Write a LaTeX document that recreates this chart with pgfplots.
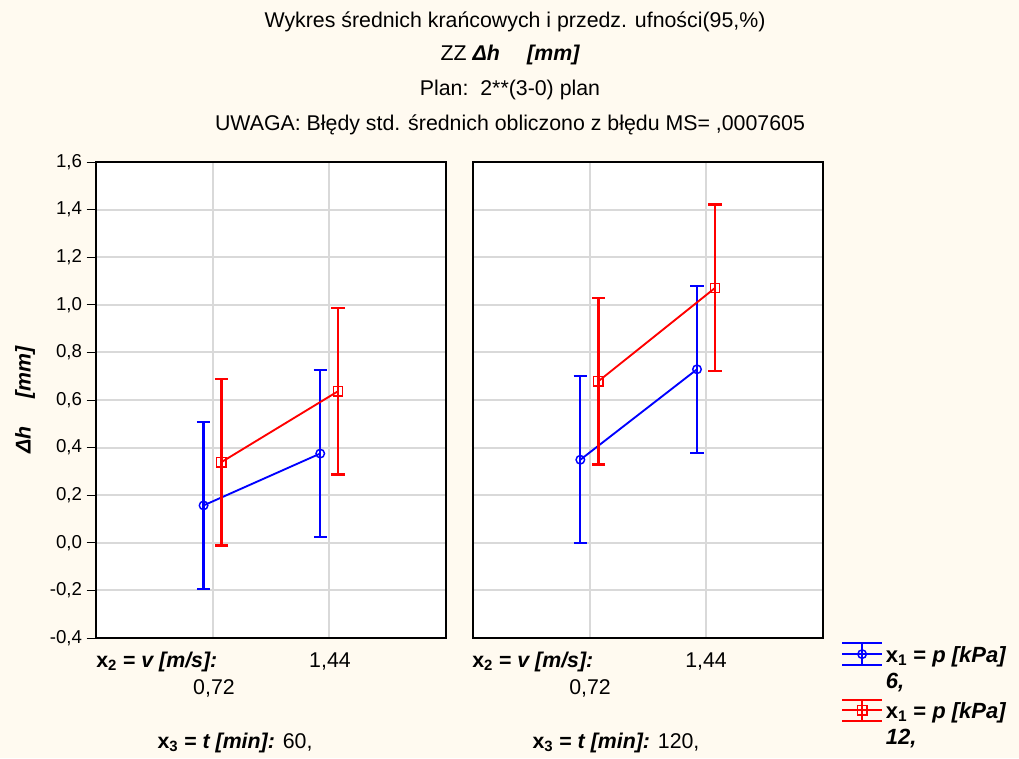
\documentclass[border=0pt]{standalone}
\usepackage{fontspec}
\setmainfont{Liberation Sans}
\usepackage{pgfplots}
\pgfplotsset{compat=1.18}
\definecolor{bg}{HTML}{FFFAF0}
\definecolor{gridc}{HTML}{D9D9D9}
\newcommand{\fs}{\fontsize{14}{19.5}\selectfont}
\newcommand{\fb}{\fontsize{16}{19.5}\selectfont}
\newcommand{\fl}{\fontsize{16.5}{19.5}\selectfont}
\newcommand{\bi}{\bfseries\itshape}
\begin{document}
\begin{tikzpicture}[x=1pt,y=1pt]
\fill[bg] (0,0) rectangle (764.25,568.5);
\useasboundingbox (0,0) rectangle (764.25,568.5);
\pgfplotsset{
  panel/.style={
    scale only axis, width=262.5pt, height=357pt, anchor=south west,
    xmin=0, xmax=3, ymin=-0.4, ymax=1.6,
    xtick={1,2}, xticklabels={},
    ytick={-0.4,-0.2,0,0.2,0.4,0.6,0.8,1.0,1.2,1.4,1.6},
    grid=major, grid style={gridc, line width=1.5pt},
    axis line style={line width=1.5pt, black},
    axis background/.style={fill=white},
    xtick style={draw=none},
    ytick pos=left,
    tick align=outside, major tick length=7pt,
    ytick style={black, line width=0.75pt},
    yticklabel style={font=\fs, /pgf/number format/.cd, fixed, fixed zerofill, precision=1, use comma, assume math mode=true},
    clip=false,
  },
  blues/.style={blue, line width=1.4pt, mark=o, mark size=3.2pt, mark options={line width=1.1pt, solid},
    error bars/.cd, y dir=both, y explicit, error mark=-, error bar style={line width=1.7pt, blue}, error mark options={rotate=90, line width=1.7pt, mark size=5pt, blue}},
  reds/.style={red, line width=1.4pt, mark=square, mark size=3.5pt, mark options={line width=1.1pt, solid},
    error bars/.cd, y dir=both, y explicit, error mark=-, error bar style={line width=1.7pt, red}, error mark options={rotate=90, line width=1.7pt, mark size=5pt, red}},
}
% Left panel: x3 = 60
\begin{axis}[panel, at={(72pt,90pt)}]
\addplot[blues] coordinates {(0.922,0.157) +- (0,0.3504) (1.922,0.375) +- (0,0.3504)};
\addplot[reds] coordinates {(1.075,0.339) +- (0,0.3504) (2.075,0.637) +- (0,0.3504)};
\end{axis}
% Right panel: x3 = 120
\begin{axis}[panel, at={(354.75pt,90pt)}, yticklabels={}, ytick style={draw=none},
  legend style={at={(1.051,-0.0065)}, anchor=north west, draw=none, fill=none, font=\fl, inner sep=0pt,
    legend cell align=left, row sep=23pt, nodes={inner sep=2pt}},
  legend image code/.code={
    \draw[#1, mark=none, line width=1.5pt] (0pt,-8pt)--(30pt,-8pt) (0pt,0pt)--(30pt,0pt) (0pt,8pt)--(30pt,8pt) (15pt,-8pt)--(15pt,8pt);
    \draw[#1, mark repeat=2, mark phase=2, draw=none] plot coordinates {(0pt,0pt) (15pt,0pt) (30pt,0pt)};
  }]
\addplot[blues] coordinates {(0.92,0.349) +- (0,0.3504) (1.92,0.729) +- (0,0.3504)};
\addlegendentry{\begin{tabular}[t]{@{}l@{}}\bfseries x\textsubscript{1} = {\itshape p [kPa]}\\ \bi 6,\end{tabular}}
\addplot[reds] coordinates {(1.075,0.679) +- (0,0.3504) (2.075,1.071) +- (0,0.3504)};
\addlegendentry{\begin{tabular}[t]{@{}l@{}}\bfseries x\textsubscript{1} = {\itshape p [kPa]}\\ \bi 12,\end{tabular}}
\end{axis}
% Titles
\node[font=\fb] at (386.25,552) {Wykres średnich krańcowych i przedz. ufności(95,\%)};
\node[font=\fb] at (382.5,527.25) {ZZ {\bi Δh\quad\ [mm]}};
\node[font=\fb] at (382.5,501) {Plan:\ \ 2**(3-0) plan};
\node[font=\fb] at (382.5,474.75) {UWAGA: Błędy std. średnich obliczono z błędu MS= ,0007605};
% y label
\node[font=\fb, rotate=90] at (18.75,268.5) {\bi Δh\quad\ [mm]};
% bottom labels left
\node[font=\fb, anchor=west, inner sep=0pt] at (72,72) {\bfseries x\textsubscript{2} = {\itshape v [m/s]:}};
\node[font=\fb] at (160.5,52.5) {0,72};
\node[font=\fb] at (247.5,72) {1,44};
\node[font=\fb] at (176.25,11.25) {{\bfseries x\textsubscript{3} = {\itshape t [min]:}} 60,};
% bottom labels right
\node[font=\fb, anchor=west, inner sep=0pt] at (354,72) {\bfseries x\textsubscript{2} = {\itshape v [m/s]:}};
\node[font=\fb] at (442.5,52.5) {0,72};
\node[font=\fb] at (529.5,72) {1,44};
\node[font=\fb] at (462,11.25) {{\bfseries x\textsubscript{3} = {\itshape t [min]:}} 120,};
\end{tikzpicture}
\end{document}
